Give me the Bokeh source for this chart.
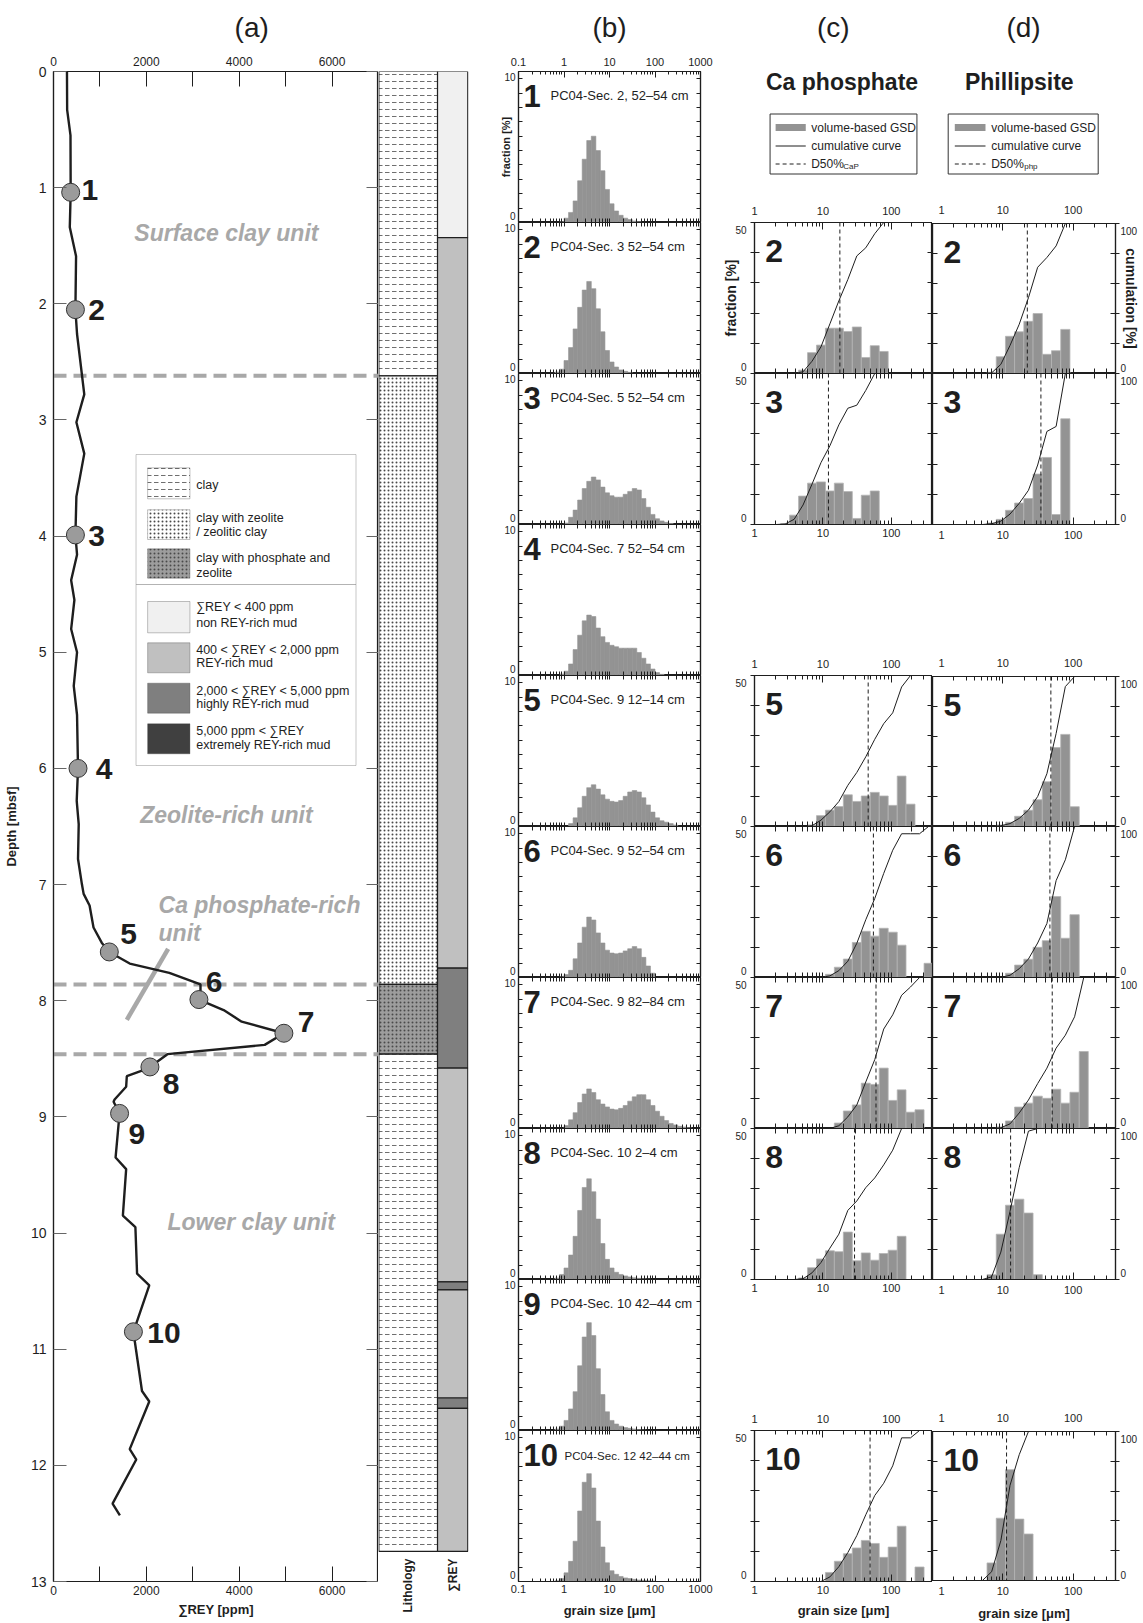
import math
from bokeh.plotting import figure
from bokeh.layouts import row, column
from bokeh.models import (Range1d, FixedTicker, LinearAxis, LogAxis, Label, Span,
                          BoxAnnotation, ColumnDataSource, Spacer, CustomJSTickFormatter)
from bokeh.embed import file_html
from bokeh.resources import INLINE

# ============================================================ data
# (a) bulk-sediment sum of REY down core PC04
rey_depth_m = [0.00, 0.33, 0.55, 1.04, 1.34, 1.59, 2.05, 2.26, 2.78, 3.02, 3.29, 3.66,
               3.99, 4.16, 4.38, 4.55, 4.80, 5.00, 5.29, 5.54, 6.00, 6.28, 6.48, 6.78,
               7.00, 7.08, 7.18, 7.37, 7.50, 7.58, 7.68, 7.76, 7.86, 7.91, 7.99, 8.08,
               8.18, 8.28, 8.38, 8.46, 8.57, 8.60, 8.65, 8.74, 8.85, 8.87, 8.97, 9.35,
               9.45, 9.85, 9.95, 10.35, 10.45, 10.85, 11.36, 11.45, 11.86, 11.95, 12.33, 12.43]
rey_ppm = [290, 294, 366, 370, 351, 486, 472, 507, 663, 493, 663, 493,
           472, 507, 380, 450, 380, 507, 436, 507, 528, 500, 543, 528,
           613, 649, 777, 862, 1038, 1202, 1642, 2494, 3166, 3166, 3132, 3664,
           4053, 4962, 4549, 2454, 2077, 1921, 1579, 1565, 1316, 1294, 1423, 1337,
           1565, 1494, 1764, 1800, 2063, 1721, 1906, 2063, 1642, 1783, 1272, 1430]
sample_no = ["1", "2", "3", "4", "5", "6", "7", "8", "9", "10"]
sample_depth = [1.04, 2.05, 3.99, 6.00, 7.58, 7.99, 8.28, 8.57, 8.97, 10.85]
sample_ppm = [370, 472, 472, 528, 1202, 3132, 4962, 2077, 1423, 1721]
unit_boundary_depth = [2.62, 7.86, 8.46]

lith_top = [0.0, 2.62, 7.86, 8.46]
lith_bottom = [2.62, 7.86, 8.46, 12.74]
lith_kind = ["clay", "zeolite", "phosphate", "clay"]

rey_class_top = [0.0, 1.43, 7.72, 8.58, 10.42, 10.49, 11.42, 11.51]
rey_class_bottom = [1.43, 7.72, 8.58, 10.42, 10.49, 11.42, 11.51, 12.74]
rey_class = [0, 1, 2, 1, 2, 1, 2, 1]

# (b) bulk grain-size distributions, fraction [%] per bin
b_edges_um = [0.501, 0.631, 0.794, 1.0, 1.259, 1.585, 1.995, 2.512, 3.162, 3.981, 5.012,
              6.310, 7.943, 10.0, 12.59, 15.85, 19.95, 25.12, 31.62, 39.81, 50.12, 63.10,
              79.43, 100.0, 125.9, 158.5, 199.5, 251.2, 316.2, 398.1, 501.2, 631.0, 794.3, 1000.0]
gsd_1 = [0, 0, 0.05, 0.3, 0.7, 1.5, 2.9, 4.4, 5.7, 6.0, 5.0, 3.6, 2.3, 1.3, 0.8, 0.5, 0.3, 0.2, 0.1, 0.05]
gsd_2 = [0, 0.1, 0.3, 0.9, 1.8, 3.1, 4.6, 5.8, 6.4, 5.9, 4.5, 2.9, 1.6, 0.8, 0.45, 0.25, 0.15, 0.08]
gsd_3 = [0, 0, 0, 0.1, 0.5, 1.0, 1.7, 2.5, 3.0, 3.3, 3.1, 2.6, 2.2, 2.0, 1.9, 1.9, 2.1, 2.3, 2.5,
         2.4, 1.8, 1.2, 0.7, 0.4, 0.25, 0.15, 0.07]
gsd_4 = [0, 0, 0.1, 0.3, 0.8, 1.8, 2.8, 3.8, 4.2, 4.1, 3.3, 2.7, 2.3, 2.1, 2.0, 1.9, 1.9, 1.9, 1.9,
         1.6, 1.2, 0.8, 0.45, 0.2, 0.08]
gsd_5 = [0, 0, 0, 0, 0.2, 0.6, 1.3, 2.1, 2.7, 2.9, 2.6, 2.2, 1.9, 1.75, 1.7, 1.8, 2.1, 2.4, 2.5,
         2.4, 2.0, 1.5, 1.0, 0.6, 0.4, 0.3, 0.2, 0.1]
gsd_6 = [0, 0, 0.05, 0.2, 0.5, 1.3, 2.4, 3.5, 4.2, 4.0, 3.1, 2.4, 1.9, 1.7, 1.65, 1.7, 1.85, 2.0,
         2.15, 2.0, 1.4, 0.8, 0.3]
gsd_7 = [0, 0, 0, 0.2, 0.6, 1.1, 1.8, 2.4, 2.75, 2.5, 2.0, 1.7, 1.5, 1.35, 1.3, 1.4, 1.6, 1.9, 2.2,
         2.35, 2.35, 2.0, 1.6, 1.2, 0.85, 0.55, 0.35, 0.25, 0.15, 0.1, 0.05]
gsd_8 = [0, 0.1, 0.35, 0.8, 1.7, 3.0, 4.8, 6.4, 7.0, 6.1, 4.2, 2.5, 1.4, 0.8, 0.5, 0.35, 0.25, 0.18,
         0.12, 0.08, 0.05, 0.03]
gsd_9 = [0, 0.1, 0.3, 0.7, 1.5, 2.7, 4.5, 6.5, 7.5, 6.6, 4.3, 2.5, 1.3, 0.7, 0.45, 0.3, 0.2, 0.15,
         0.1, 0.06, 0.04]
gsd_10 = [0, 0.05, 0.2, 0.6, 1.4, 2.8, 4.9, 6.9, 7.5, 6.5, 4.2, 2.4, 1.3, 0.75, 0.5, 0.35, 0.25,
          0.2, 0.15, 0.1, 0.08, 0.06, 0.04]
sample_label = ["PC04-Sec. 2, 52\u201354 cm", "PC04-Sec. 3 52\u201354 cm", "PC04-Sec. 5 52\u201354 cm",
                "PC04-Sec. 7 52\u201354 cm", "PC04-Sec. 9 12\u201314 cm", "PC04-Sec. 9 52\u201354 cm",
                "PC04-Sec. 9 82\u201384 cm", "PC04-Sec. 10 2\u20134 cm", "PC04-Sec. 10 42\u201344 cm",
                "PC04-Sec. 12 42\u201344 cm"]

# (c) Ca phosphate and (d) phillipsite grain-size classes [um], fraction [%]
cd_edges_um = [1.78, 2.41, 3.26, 4.41, 5.96, 8.06, 10.9, 14.7, 19.9, 26.9, 36.4, 49.2, 66.6,
               90.0, 122.0, 164.0, 222.0, 301.0, 406.0]
cd_samples = [2, 3, 5, 6, 7, 8, 10]
cap_2 = [0, 0, 0, 1.1, 6.9, 9.4, 15.0, 15.0, 13.9, 15.4, 5.3, 9.2, 7.3, 0, 0, 0, 0, 0]
cap_3 = [0, 0.3, 3.1, 9.4, 13.7, 14.1, 11.1, 13.7, 10.9, 2.0, 9.7, 11.1, 0, 0, 0, 0, 0, 0]
cap_5 = [0, 0, 0, 0, 0.5, 3.6, 5.4, 6.6, 10.5, 8.3, 10.1, 11.3, 10.1, 7.0, 16.7, 7.4, 0, 0]
cap_6 = [0, 0, 0, 0, 0, 0, 1.05, 3.4, 6.1, 11.6, 15.3, 13.7, 16.3, 15.0, 10.7, 0, 0, 4.7]
cap_7 = [0, 0, 0, 0, 0, 0, 0, 1.8, 5.8, 7.8, 15.0, 14.6, 20.0, 9.3, 12.8, 5.4, 6.2, 0]
cap_8 = [0, 0, 0, 0.5, 3.9, 6.8, 9.5, 9.2, 15.7, 6.2, 8.8, 6.4, 8.6, 9.7, 14.3, 0, 0, 0]
cap_10 = [0, 0, 0, 0, 0, 0, 3.0, 6.7, 9.2, 11.1, 13.6, 12.6, 8.0, 11.4, 18.3, 0, 4.8, 0]
php_2 = [0, 0, 0, 0, 0.4, 5.6, 12.4, 13.9, 17.4, 20.0, 6.4, 7.6, 14.7, 0, 0, 0, 0, 0]
php_3 = [0, 0, 0, 0, 0.5, 1.7, 4.7, 7.1, 8.6, 16.7, 22.2, 3.3, 35.0, 0, 0, 0, 0, 0]
php_5 = [0, 0, 0, 0, 0, 0.5, 1.4, 3.4, 5.4, 8.9, 14.9, 26.3, 30.7, 6.6, 0, 0, 0, 0]
php_6 = [0, 0, 0, 0, 0, 0, 1.4, 4.1, 6.05, 10.0, 12.2, 26.8, 13.0, 20.8, 0, 0, 0, 0]
php_7 = [0, 0, 0, 0, 0, 0.5, 2.5, 7.1, 8.4, 10.7, 10.0, 13.0, 8.4, 12.0, 25.5, 0, 0, 0]
php_8 = [0, 0, 0, 0, 1.6, 15.0, 24.6, 26.6, 22.0, 1.6, 0, 0, 0, 0, 0, 0, 0, 0]
php_10 = [0, 0, 0, 0, 5.9, 20.9, 37.2, 20.6, 15.6, 0, 0, 0, 0, 0, 0, 0, 0, 0]
cap_d50 = [17.7, 12.05, 45.9, 54.7, 59.7, 29.0, 48.9]
php_d50 = [22.3, 34.8, 48.2, 46.7, 50.4, 12.9, 11.3]

# tick values
a_x_ticks = [0, 2000, 4000, 6000]
a_x_minor = [1000, 3000, 5000]
depth_ticks = list(range(0, 14))
b_ticks = [0.1, 1, 10, 100, 1000]
b_minor = [0.2, 0.3, 0.4, 0.5, 0.6, 0.7, 0.8, 0.9, 2, 3, 4, 5, 6, 7, 8, 9,
           20, 30, 40, 50, 60, 70, 80, 90, 200, 300, 400, 500, 600, 700, 800, 900]
b_frac_ticks = list(range(0, 11))
cd_ticks = [1, 10, 100]
cd_minor = [2, 3, 4, 5, 6, 7, 8, 9, 20, 30, 40, 50, 60, 70, 80, 90, 200, 300, 400]
cd_frac_ticks = [0, 10, 20, 30, 40, 50]

# ============================================================ style
INK = "#1e1e1e"
HIST = "#939393"
UNIT_GRAY = "#a8a8a8"
REY_COLORS = ["#f0f0f0", "#c0c0c0", "#7f7f7f", "#404040"]
FONT = "Liberation Sans"
NB = "\u00a0"
PAGE_H = 1623
TOP, ROW_H, BOT = 71, 151, 42
HEAD_AB = 51          # height of the strip holding the (a)/(b) letters
AX_TOP = TOP - HEAD_AB


def new_fig(w, h, xr, yr, xlog=False, ml=0, mr=0, mt=0, mb=0):
    p = figure(width=w, height=h, x_range=xr, y_range=yr,
               x_axis_type="log" if xlog else "linear",
               x_axis_location=None, y_axis_location=None,
               output_backend="svg", toolbar_location=None,
               min_border_left=ml, min_border_right=mr, min_border_top=mt, min_border_bottom=mb)
    p.grid.visible = False
    p.outline_line_color = INK
    p.outline_line_width = 1.2
    return p


def add_axis(p, side, major=(), minor=(), tin=0, tout=0, min_in=0, min_out=0, js=None,
             size="11px", standoff=3, log=False, color=INK, label=None, label_size="13px",
             label_standoff=0):
    cls = LogAxis if log else LinearAxis
    ax = cls(ticker=FixedTicker(ticks=list(major), minor_ticks=list(minor)))
    ax.axis_line_color = INK
    ax.axis_line_width = 1.2
    ax.major_tick_line_color = color
    ax.minor_tick_line_color = color
    ax.major_tick_in = tin
    ax.major_tick_out = tout
    ax.minor_tick_in = min_in
    ax.minor_tick_out = min_out
    ax.major_label_text_font = FONT
    ax.major_label_text_font_size = size
    ax.major_label_text_color = INK
    ax.major_label_standoff = standoff if len(major) else 0
    if js is not None:
        ax.formatter = CustomJSTickFormatter(code=js)
    elif log:
        ax.formatter = CustomJSTickFormatter(code="return String(tick);")
    if label:
        ax.axis_label = label
        ax.axis_label_text_font = FONT
        ax.axis_label_text_font_size = label_size
        ax.axis_label_text_font_style = "bold"
        ax.axis_label_text_color = INK
        ax.axis_label_standoff = label_standoff
    p.add_layout(ax, side)
    return ax


def put(p, x, y, text, size, style="normal", color=INK, align="left", baseline="middle", angle=0.0):
    p.add_layout(Label(x=x, y=y, text=text, text_font=FONT, text_font_size=f"{size}px",
                       text_font_style=style, text_color=color, text_align=align,
                       text_baseline=baseline, angle=angle))


def letter_strip(w, ml, mr, letter, x_local):
    # strip above a panel; frame coordinates are pixels from the column's left edge / page top
    h = new_fig(w, HEAD_AB, Range1d(ml, w - mr), Range1d(HEAD_AB, 0), ml=ml, mr=mr)
    h.outline_line_color = None
    put(h, x_local, 27, letter, 28, align="center")
    return h


# ============================================================ (a) profile
A_FX, A_FW, A_FY, A_FH = 50.0, 328.0, 71.0, 1510.0


def a_x(px):
    return (px - A_FX) / A_FW * 7000.0


def a_y(py):
    return (py - A_FY) / A_FH * 13.0


pa = new_fig(378, PAGE_H - HEAD_AB, Range1d(0, 7000), Range1d(13, 0), ml=50, mr=0, mt=AX_TOP, mb=BOT)
add_axis(pa, "above", a_x_ticks, a_x_minor, tin=15, min_in=15, size="12px", standoff=6)
add_axis(pa, "below", a_x_ticks, a_x_minor, tin=15, min_in=15, size="12px", standoff=4,
         label="\u2211REY [ppm]", label_size="13px", label_standoff=4)
add_axis(pa, "left", depth_ticks, tin=13, size="14px", standoff=7, color="#666666",
         label="Depth [mbsf]", label_size="13px", label_standoff=9)
add_axis(pa, "right", [], depth_ticks, min_in=12, color="#666666")

for d in unit_boundary_depth:
    pa.add_layout(Span(location=d, dimension="width", line_color=UNIT_GRAY, line_width=4,
                       line_dash="13 7", level="underlay"))

# pointer for the Ca phosphate-rich unit label
pa.line([a_x(165.7), a_x(124.0)], [a_y(948.3), a_y(1019.3)], line_color=UNIT_GRAY, line_width=4.5)
pa.line(rey_ppm, rey_depth_m, line_color=INK, line_width=2.4)
pa.scatter(sample_ppm, sample_depth, size=18, fill_color="#9b9b9b", line_color="#333333", line_width=1)

lab_dx = [11, 13, 13, 18, 11, 7, 14, 13, 9, 14]
lab_dy = [-2, 0, 1, 1, -18, -18, -11, 17, 21, 1]
for s, xp, yd, dx, dy in zip(sample_no, sample_ppm, sample_depth, lab_dx, lab_dy):
    put(pa, xp + dx * 7000.0 / A_FW, yd + dy * 13.0 / A_FH, s, 30, style="bold")

put(pa, a_x(224.5), a_y(232), "Surface clay unit", 23, "bold italic", UNIT_GRAY, "center")
put(pa, a_x(224.5), a_y(814), "Zeolite-rich unit", 23, "bold italic", UNIT_GRAY, "center")
put(pa, a_x(156), a_y(904), "Ca phosphate-rich", 23, "bold italic", UNIT_GRAY, "left")
put(pa, a_x(156), a_y(932), "unit", 23, "bold italic", UNIT_GRAY, "left")
put(pa, a_x(249.5), a_y(1221.6), "Lower clay unit", 23, "bold italic", UNIT_GRAY, "center")

# legend box in (a)
pa.add_layout(BoxAnnotation(left=a_x(133.3), right=a_x(355.3), top=a_y(454), bottom=a_y(584),
                            fill_color="white", fill_alpha=1, line_color="#444444", line_width=1))
pa.add_layout(BoxAnnotation(left=a_x(133.3), right=a_x(355.3), top=a_y(584), bottom=a_y(765),
                            fill_color="white", fill_alpha=1, line_color="#444444", line_width=1))
lith_leg_rows = [(467.3, 498.3), (509.3, 539.0), (548.3, 577.7)]
lith_leg_fill = ["white", "white", "#9d9d9d"]
lith_leg_hatch = ["horizontal_dash", "dot", "dot"]
lith_leg_scale = [7, 4, 4]
lith_leg_text = [["clay"], ["clay with zeolite", "/ zeolitic clay"], ["clay with phosphate and", "zeolite"]]
lith_leg_ty = [[484], [517.3, 531.7], [557.3, 572.7]]
for (y0, y1), fc, hp, hs, txts, tys in zip(lith_leg_rows, lith_leg_fill, lith_leg_hatch,
                                          lith_leg_scale, lith_leg_text, lith_leg_ty):
    pa.add_layout(BoxAnnotation(left=a_x(145), right=a_x(187.7), top=a_y(y0), bottom=a_y(y1),
                                fill_color=fc, fill_alpha=1, line_color="#333333", line_width=1,
                                hatch_pattern=hp, hatch_scale=hs, hatch_color="#4a4a4a", hatch_weight=0.8))
    for t, ty in zip(txts, tys):
        put(pa, a_x(194), a_y(ty), t, 12.5)
rey_leg_rows = [(601.0, 632.3), (642.3, 672.3), (682.7, 712.7), (723.3, 753.3)]
rey_leg_text = [["\u2211REY < 400 ppm", "non REY-rich mud"],
                ["400 < \u2211REY < 2,000 ppm", "REY-rich mud"],
                ["2,000 < \u2211REY < 5,000 ppm", "highly REY-rich mud"],
                ["5,000 ppm < \u2211REY", "extremely REY-rich mud"]]
rey_leg_ty = [[606.7, 622.7], [649.3, 662.7], [690, 703.3], [730, 744]]
for (y0, y1), col, txts, tys in zip(rey_leg_rows, REY_COLORS, rey_leg_text, rey_leg_ty):
    pa.add_layout(BoxAnnotation(left=a_x(145), right=a_x(187.7), top=a_y(y0), bottom=a_y(y1),
                                fill_color=col, fill_alpha=1, line_color="#333333", line_width=1))
    for t, ty in zip(txts, tys):
        put(pa, a_x(194), a_y(ty), t, 12.5)

col_a = column(letter_strip(378, 50, 0, "(a)", 250), pa)

# ============================================================ lithology / REY class columns
pl = new_fig(92, PAGE_H, Range1d(0, 1), Range1d(13.0 + BOT * 13.0 / A_FH, 0), ml=0, mr=2, mt=TOP, mb=0)
pl.outline_line_color = None
lith_fill_map = {"clay": "#ffffff", "zeolite": "#ffffff", "phosphate": "#9d9d9d"}
lith_hatch_map = {"clay": "horizontal_dash", "zeolite": "dot", "phosphate": "dot"}
lith_scale_map = {"clay": 7, "zeolite": 4, "phosphate": 4}
lsrc = ColumnDataSource(dict(top=lith_top, bottom=lith_bottom,
                             fill=[lith_fill_map[k] for k in lith_kind],
                             hatch=[lith_hatch_map[k] for k in lith_kind],
                             hscale=[lith_scale_map[k] for k in lith_kind]))
pl.quad(left=0.004, right=0.656, top="top", bottom="bottom", source=lsrc, fill_color="fill",
        hatch_pattern="hatch", hatch_scale="hscale", hatch_color="#4a4a4a", hatch_weight=0.8,
        line_color=INK, line_width=1.2)
rsrc = ColumnDataSource(dict(top=rey_class_top, bottom=rey_class_bottom,
                             fill=[REY_COLORS[c] for c in rey_class]))
pl.quad(left=0.656, right=0.992, top="top", bottom="bottom", source=rsrc, fill_color="fill",
        line_color=INK, line_width=1.2)
put(pl, 0.33, a_y(1558), "Lithology", 12, "bold", align="right", angle=math.pi / 2)
put(pl, 0.83, a_y(1558), "\u2211REY", 12, "bold", align="right", angle=math.pi / 2)

# ============================================================ (b) bulk GSD panels
B_FW, B_YMAX = 182.0, 10.5


def b_x(dx):
    return 0.1 * 10 ** (dx / B_FW * 4.0)


def b_y(dy):
    return B_YMAX - dy / ROW_H * B_YMAX


gsd_b = [gsd_1, gsd_2, gsd_3, gsd_4, gsd_5, gsd_6, gsd_7, gsd_8, gsd_9, gsd_10]
b_items = [letter_strip(250, 48, 20, "(b)", 139)]
for k in range(10):
    first, last = k == 0, k == 9
    mt = AX_TOP if first else 0
    mb = BOT if last else 0
    p = new_fig(250, ROW_H + mt + mb, Range1d(0.1, 1000), Range1d(0, B_YMAX), xlog=True,
                ml=48, mr=20, mt=mt, mb=mb)
    if first:
        add_axis(p, "above", b_ticks, b_minor, tin=6, min_in=3, size="11px", standoff=6, log=True)
    else:
        add_axis(p, "above", [], b_ticks + b_minor, min_in=4, log=True)
    if last:
        add_axis(p, "below", b_ticks, b_minor, tin=6, min_in=3, size="11px", standoff=3, log=True,
                 label="grain size [\u03bcm]", label_size="13px", label_standoff=7)
    else:
        add_axis(p, "below", [], b_ticks + b_minor, min_in=4, log=True)
    add_axis(p, "left", [0.42, 10.1], b_frac_ticks, min_in=4, size="10px", standoff=3,
             js="return tick < 5 ? '0' : '10';",
             label="fraction [%]" if first else None, label_size="11px", label_standoff=-11)
    add_axis(p, "right", [], b_frac_ticks, min_in=4)
    vals = gsd_b[k]
    p.quad(left=b_edges_um[:len(vals)], right=b_edges_um[1:len(vals) + 1], bottom=0, top=vals,
           fill_color=HIST, line_color=HIST, line_width=0.6)
    put(p, b_x(5), b_y(24), sample_no[k], 31, "bold")
    if k == 9:
        put(p, b_x(46), b_y(25), sample_label[k], 11.5)
    else:
        put(p, b_x(32), b_y(24), sample_label[k], 13)
    b_items.append(p)

# ============================================================ (c)/(d) mineral GSD panels
CD_DEC = math.log10(400)
C_W, C_ML, D_W, D_MR, CD_FW = 212, 29, 211, 28, 183.0
HEAD_H = TOP + ROW_H - 22


def cd_x(dx):
    return 10 ** (dx / CD_FW * CD_DEC)


def cd_y(dy):
    return 50 - dy / ROW_H * 50


def cum_points(vals):
    total = float(sum(vals))
    idx = [i for i, v in enumerate(vals) if v > 0]
    k0, k1 = idx[0], idx[-1]
    xs, ys = [], []

    def centre(i):
        return math.sqrt(cd_edges_um[i] * cd_edges_um[i + 1])

    if k0 > 0:
        xs.append(centre(k0 - 1))
        ys.append(0.0)
    run = 0.0
    for i in range(k0, k1 + 1):
        run += vals[i]
        xs.append(centre(i))
        ys.append(run / total * 100.0)
    return xs, ys


def cd_fig(kind, sample, vals, d50, top_lab, bot_lab, xlabel):
    is_c = kind == "c"
    w = C_W if is_c else D_W
    mt = 22 if top_lab else 0
    mb = BOT if xlabel else (22 if bot_lab else 0)
    p = new_fig(w, ROW_H + mt + mb, Range1d(1, 400), Range1d(0, 50), xlog=True,
                ml=C_ML if is_c else 0, mr=0 if is_c else D_MR, mt=mt, mb=mb)
    p.extra_y_ranges = {"cum": Range1d(0, 100)}
    xjs = "return String(tick);" if is_c else "return tick == 1 ? '" + NB + NB + "1' : String(tick);"
    if top_lab:
        add_axis(p, "above", cd_ticks, cd_minor, tin=7, min_in=4, size="11px", standoff=8,
                 log=True, js=xjs)
    else:
        add_axis(p, "above", [], cd_ticks + cd_minor, min_in=5, log=True)
    if bot_lab or xlabel:
        add_axis(p, "below", cd_ticks, cd_minor, tin=7, min_in=4, size="11px", standoff=4,
                 log=True, js=xjs, label="grain size [\u03bcm]" if xlabel else None,
                 label_size="13px", label_standoff=6)
    else:
        add_axis(p, "below", [], cd_ticks + cd_minor, min_in=5, log=True)
    if is_c:
        add_axis(p, "left", [2.0, 47.5], cd_frac_ticks, min_in=5, min_out=4, size="10px", standoff=4,
                 js="return tick < 25 ? '0' : '50';",
                 label="fraction [%]" if sample == 2 else None, label_size="14px", label_standoff=-7)
        add_axis(p, "right", [], cd_frac_ticks, min_in=5)
    else:
        add_axis(p, "left", [], cd_frac_ticks, min_in=5)
        add_axis(p, "right", [2.0, 47.5], cd_frac_ticks, min_in=5, min_out=4, size="10px", standoff=1,
                 js="return tick < 25 ? '0' : '100';",
                 label="cumulation [%]" if sample == 2 else None, label_size="14px",
                 label_standoff=-17)
    lo = [cd_edges_um[i] for i, v in enumerate(vals) if v > 0]
    hi = [cd_edges_um[i + 1] for i, v in enumerate(vals) if v > 0]
    tp = [v for v in vals if v > 0]
    p.quad(left=lo, right=hi, bottom=0, top=tp, fill_color=HIST, line_color="#b4b4b4", line_width=0.8)
    cx, cy = cum_points(vals)
    p.line(cx, cy, y_range_name="cum", line_color=INK, line_width=1)
    p.add_layout(Span(location=d50, dimension="height", line_color=INK, line_width=1, line_dash="4 3"))
    put(p, cd_x(11), cd_y(28.5), str(sample), 32, "bold")
    return p


def header(kind, letter, letter_x, title, title_x, bx0, bx1, sx0, sx1, tx, sub):
    # local pixel-like frame: x measured from the column's left edge, y from page top
    if kind == "c":
        h = new_fig(C_W, HEAD_H, Range1d(C_ML, C_W), Range1d(HEAD_H, 0), ml=C_ML)
    else:
        h = new_fig(D_W, HEAD_H, Range1d(0, D_W - D_MR), Range1d(HEAD_H, 0), mr=D_MR)
    h.outline_line_color = None
    put(h, letter_x, 27, letter, 28, align="center")
    put(h, title_x, 81.7, title, 23, "bold", align="center")
    h.quad(left=bx0, right=bx1, top=113.5, bottom=173.5, fill_color="white", line_color="#333333",
           line_width=1)
    h.quad(left=sx0, right=sx1, top=123.5, bottom=130.5, fill_color=HIST, line_color=None)
    h.segment(x0=sx0, y0=145.5, x1=sx1, y1=145.5, line_color=INK, line_width=1)
    h.segment(x0=sx0, y0=163.5, x1=sx1, y1=163.5, line_color=INK, line_width=1, line_dash="4 3")
    put(h, tx, 127, "volume-based GSD", 12)
    put(h, tx, 145.5, "cumulative curve", 12)
    put(h, tx, 163.5, "D50%", 12)
    put(h, tx + 33, 166, sub, 8)
    return h


cap_vals = [cap_2, cap_3, cap_5, cap_6, cap_7, cap_8, cap_10]
php_vals = [php_2, php_3, php_5, php_6, php_7, php_8, php_10]
top_lab_rows = {2, 5, 10}
bot_lab_rows = {3, 8}


def build_column(kind):
    is_c = kind == "c"
    w = C_W if is_c else D_W
    if is_c:
        items = [header("c", "(c)", 110, "Ca phosphate", 119, 45, 196, 50.7, 81.7, 87.3, "CaP")]
    else:
        items = [header("d", "(d)", 91, "Phillipsite", 86.8, 15.7, 165.7, 22.3, 53, 58.7, "php")]
    vals_list = cap_vals if is_c else php_vals
    d50s = cap_d50 if is_c else php_d50
    for s, vals, d50 in zip(cd_samples, vals_list, d50s):
        if s in (5, 10):
            items.append(Spacer(width=w, height=ROW_H - 44))
        items.append(cd_fig(kind, s, vals, d50, s in top_lab_rows, s in bot_lab_rows, s == 10))
    return column(*items)


layout = row(col_a, column(pl), column(*b_items), build_column("c"), build_column("d"))
open("out.html", "w").write(file_html(layout, INLINE, title="PC04 grain size"))
